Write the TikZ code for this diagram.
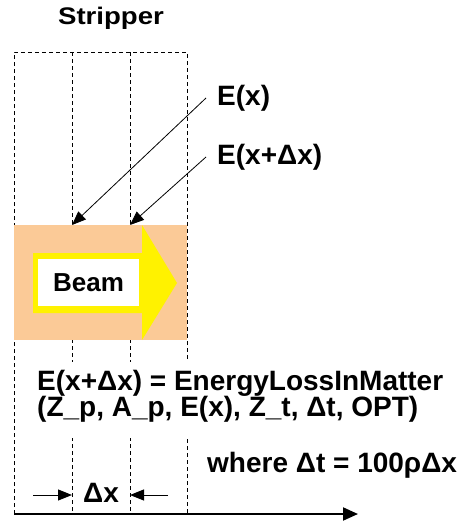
\documentclass[tikz,border=0pt]{standalone}
\usepackage{fontspec}
\setmainfont{Liberation Sans}
\usepackage{graphicx}
\usetikzlibrary{arrows.meta}
\definecolor{beamtan}{HTML}{FBCA97}

\begin{document}
\begin{tikzpicture}[x=1pt,y=-1pt,
 slice/.style={dash pattern=on 4pt off 3pt,line width=0.9pt},
 lbl/.style={font=\fontsize{28}{24}\selectfont\bfseries,inner sep=0pt},
 ptr/.style={-{Triangle[length=14pt,width=11pt]},line width=0.8pt},
 gap/.style={-{Triangle[length=14pt,width=11pt]},line width=1pt},
 axis/.style={-{Triangle[length=15pt,width=13pt]},line width=2pt}]
\useasboundingbox (0,0) rectangle (460,522);

% Stripper slices (dashed)
\draw[slice] (14,514) -- (14,52) -- (187,52) -- (187,514);
\draw[slice] (72,52) -- (72,514);
\draw[slice] (130,52) -- (130,514);
\node[lbl,anchor=base] (stripper) at (111,24)
 {\fontsize{24}{24}\selectfont\scalebox{1.15}[1]{Stripper}};

% Beam region
\fill[beamtan] (14,225) rectangle (187,340);
\fill[yellow] (33,253) -- (142,253) -- (142,225) -- (177,283)
 -- (142,340) -- (142,313) -- (33,313) -- cycle;
\node[lbl,font=\fontsize{26}{24}\selectfont\bfseries,fill=white,
 minimum width=101pt,minimum height=47pt] (beam) at (88.5,282.5) {Beam};

% Energy at the slice boundaries
\coordinate (tipA) at (72,225);
\coordinate (tipB) at (130,225);
\node[lbl,anchor=west,inner xsep=11pt] (ex) at (206,98) {E(x)};
\node[lbl,anchor=west,inner xsep=11pt] (exdx) at (206,157) {E(x+Δx)};
\draw[ptr] (ex.west) -- (tipA);
\draw[ptr] (exdx.west) -- (tipB);

% Update formula
\fill[white] (23,362) rectangle (458,438);
\node[lbl,anchor=base west] (eqtop) at (37,390) {E(x+Δx) = EnergyLossInMatter};
\node[lbl,anchor=base west] (eqbot) at (37,416) {(Z\_p, A\_p, E(x), Z\_t, Δt, OPT)};
\node[lbl,anchor=base west] (where) at (207,472) {where Δt = 100ρΔx};

% Slice thickness and axis
\node[lbl,anchor=base] (dx) at (101,502) {Δx};
\coordinate (cutA) at (72,495);
\coordinate (cutB) at (130,495);
\draw[gap] (33,495) -- (cutA);
\draw[gap] (168,495) -- (cutB);
\coordinate (origin) at (14,514);
\coordinate (xend) at (358,514);
\draw[axis] (origin) -- (xend);
\end{tikzpicture}
\end{document}
